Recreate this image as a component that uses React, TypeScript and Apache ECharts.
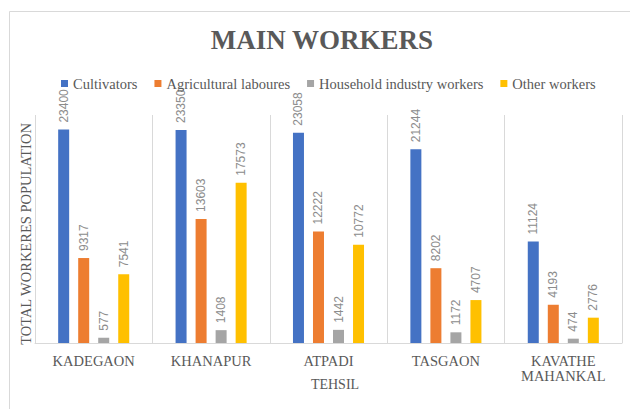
import React, { useEffect, useRef } from "react";
import * as echarts from "echarts";

const categories = ["KADEGAON", "KHANAPUR", "ATPADI", "TASGAON", "KAVATHE\nMAHANKAL"];
const seriesNames = ["Cultivators", "Agricultural laboures", "Household industry workers", "Other workers"];
const cultivators = [23400, 23350, 23058, 21244, 11124];
const agricultural = [9317, 13603, 12222, 8202, 4193];
const household = [577, 1408, 1442, 1172, 474];
const other = [7541, 17573, 10772, 4707, 2776];
const colors = ["#4472C4", "#ED7D31", "#A5A5A5", "#FFC000"];

export default function App() {
  const ref = useRef<HTMLDivElement>(null);
  useEffect(() => {
    const chart = echarts.init(ref.current!, null, { renderer: "svg" });
    const serif = "'Liberation Serif', 'Times New Roman', serif";
    const allData = [cultivators, agricultural, household, other];
    chart.setOption({
      animation: false,
      backgroundColor: "#ffffff",
      color: colors,
      grid: { left: 35, right: 8, top: 115, bottom: 66 },
      legend: {
        left: 56,
        top: 71,
        itemWidth: 7,
        itemHeight: 7,
        itemGap: 17,
        icon: "rect",
        data: seriesNames,
        textStyle: { fontFamily: serif, fontSize: 14.5, color: "#595959" },
      },
      xAxis: {
        type: "category",
        data: categories,
        axisLine: { lineStyle: { color: "#d9d9d9", width: 1 } },
        axisTick: { show: false },
        splitLine: { show: true, interval: 0, lineStyle: { color: "#d9d9d9", width: 1 } },
        axisLabel: {
          interval: 0,
          margin: 10,
          fontFamily: serif,
          fontSize: 14.5,
          color: "#595959",
          lineHeight: 15,
        },
      },
      yAxis: {
        type: "value",
        min: 0,
        max: 25000,
        interval: 5000,
        show: false,
        splitLine: { show: false },
      },
      series: seriesNames.map((name, i) => ({
        name,
        type: "bar",
        data: allData[i],
        barWidth: 11,
        barGap: "82%",
        itemStyle: { color: colors[i] },
        label: {
          show: true,
          position: "top",
          rotate: 90,
          align: "left",
          verticalAlign: "middle",
          distance: 7,
          fontFamily: "'Liberation Sans', Arial, sans-serif",
          fontSize: 12,
          color: "#8c8c8c",
        },
      })),
      graphic: [
        {
          type: "rect",
          shape: { x: 9.5, y: 11.5, width: 640, height: 420 },
          style: { fill: "none", stroke: "#d9d9d9", lineWidth: 1 },
          silent: true,
          z: -10,
        },
        {
          type: "text",
          x: 322,
          y: 40,
          style: {
            text: "MAIN WORKERS",
            fontFamily: serif,
            fontSize: 27,
            fontWeight: "bold",
            fill: "#595959",
            textAlign: "center",
            textVerticalAlign: "middle",
          },
        },
        {
          type: "text",
          x: 26,
          y: 234,
          rotation: Math.PI / 2,
          style: {
            text: "TOTAL WORKERES POPULATION",
            fontFamily: serif,
            fontSize: 14.5,
            fill: "#595959",
            textAlign: "center",
            textVerticalAlign: "middle",
          },
        },
        {
          type: "text",
          x: 335,
          y: 384,
          style: {
            text: "TEHSIL",
            fontFamily: serif,
            fontSize: 14,
            fill: "#595959",
            textAlign: "center",
            textVerticalAlign: "middle",
          },
        },
      ],
    });
    return () => chart.dispose();
  }, []);
  return (
    <div
      ref={ref}
      style={{ position: "fixed", left: 0, top: 0, width: 630, height: 409 }}
    />
  );
}
